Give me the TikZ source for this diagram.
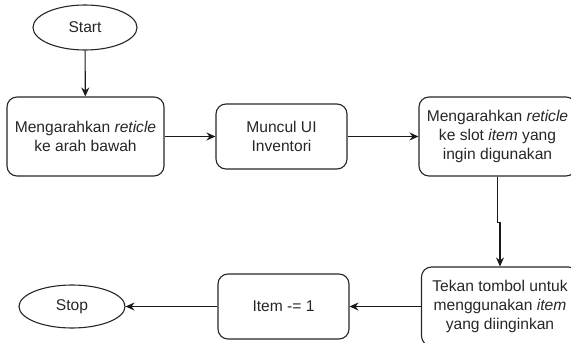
\documentclass[tikz,border=0pt]{standalone}
\usepackage{fontspec}
\setmainfont{Liberation Sans}
\usetikzlibrary{shapes.geometric,arrows.meta}
\begin{document}
\begin{tikzpicture}[x=1pt,y=-1pt,
  every node/.style={font=\fontsize{15.6}{18.7}\selectfont, text=black!85, align=center, inner sep=0pt},
  proc/.style={draw=black!85, line width=1.1pt, rounded corners=10pt},
  term/.style={draw=black!85, line width=1.1pt, ellipse},
  flow/.style={draw=black!90, line width=1.1pt, -{Stealth[length=9pt,width=8pt,inset=3pt]}}
]
\useasboundingbox (0,0) rectangle (571,343);
\begin{scope}
\clip (0,0) rectangle (571,343);
% terminals
\node[term, minimum width=104pt, minimum height=45pt] (start) at (85,27.5) {Start};
\node[term, minimum width=106pt, minimum height=43pt] (stop) at (72,306.5) {Stop};
% process steps
\node[proc, minimum width=157pt, minimum height=79pt] (aim) at (85.5,136.5) {Mengarahkan \textit{reticle}\\ke arah bawah};
\node[proc, minimum width=131pt, minimum height=65pt] (ui) at (281.5,136.5) {Muncul UI\\Inventori};
\node[proc, minimum width=157pt, minimum height=79pt] (slot) at (497.5,136.5) {Mengarahkan \textit{reticle}\\ke slot \textit{item} yang\\ingin digunakan};
\node[proc, minimum width=157pt, minimum height=79pt] (press) at (500,306.5) {Tekan tombol untuk\\menggunakan \textit{item}\\yang diinginkan};
\node[proc, minimum width=131pt, minimum height=65pt] (dec) at (283.5,306.5) {Item -= 1};
% connectors
\draw[flow] (start) -- (aim);
\draw[flow] (aim) -- (ui);
\draw[flow] (ui) -- (slot);
\draw[flow] (slot.south) -- ++(0,46) -| (press.north);
\draw[flow] (press) -- (dec);
\draw[flow] (dec) -- (stop);
\end{scope}
\end{tikzpicture}
\end{document}
